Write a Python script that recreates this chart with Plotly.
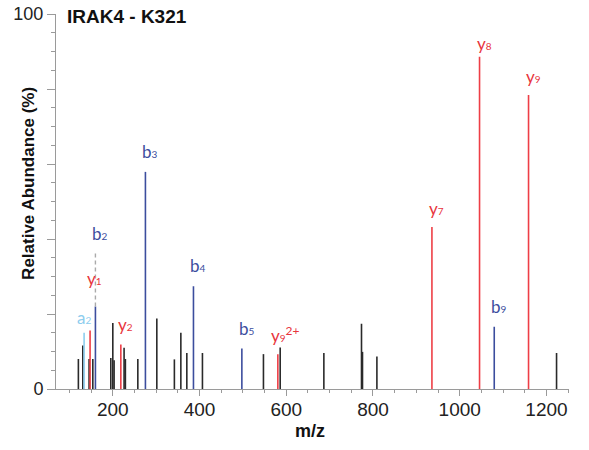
import plotly.graph_objects as go

# ---- data (m/z, relative abundance %) ----
other_mz = [120.6, 130.8, 145.3, 153.9, 195.4, 200.0, 203.0, 226.0, 229.0, 257.7,
            301.5, 342.0, 356.9, 370.7, 406.7, 547.4, 586.0, 686.7, 773.5, 775.8,
            809.0, 1223.3]
other_int = [8.0, 11.6, 8.0, 8.0, 8.3, 17.6, 7.7, 11.0, 8.0, 8.0,
             18.8, 7.9, 15.0, 9.6, 9.6, 9.3, 11.1, 9.6, 17.4, 9.9,
             8.7, 9.6]

y_mz = [147.6, 218.5, 580.6, 935.9, 1045.7, 1158.7]
y_int = [15.6, 11.9, 9.3, 43.2, 88.6, 78.4]
y_names = ["y", "y", "y", "y", "y", "y"]
y_nums = ["1", "2", "9", "7", "8", "9"]
y_charge = ["", "", "2+", "", "", ""]

b_mz = [159.9, 275.2, 386.0, 497.6, 1079.6]
b_int = [22.0, 57.9, 27.4, 10.8, 16.6]
b_names = ["b", "b", "b", "b", "b"]
b_nums = ["2", "3", "4", "5", "9"]

a_mz = [133.8]
a_int = [15.0]
a_names = ["a"]
a_nums = ["2"]

# dashed extension above b2
b2_ext_top = 36.4

x_range = [69, 1252]
y_range = [0, 100]
x_ticks = [200, 400, 600, 800, 1000, 1200]

# ---- styles ----
BLACK = "#2a2a2a"
RED = "#ee3e46"
RED_TXT = "#e8343c"
BLUE = "#3c4d9e"
LIGHTBLUE = "#8dcdee"
LW = 1.6
LABEL_FONT = "Lato"


def sticks(mz, inten):
    xs, ys = [], []
    for m, h in zip(mz, inten):
        xs += [m, m, None]
        ys += [0, h, None]
    return xs, ys


def ion_text(name, num, charge=""):
    t = f"{name}<span style='font-size:10px'>{num}</span>"
    if charge:
        t += f"<sup><span style='font-size:12px'>{charge}</span></sup>"
    return t


fig = go.Figure()
for mz, inten, col in [(other_mz, other_int, BLACK), (a_mz, a_int, LIGHTBLUE),
                       (y_mz, y_int, RED), (b_mz, b_int, BLUE)]:
    xs, ys = sticks(mz, inten)
    fig.add_trace(go.Scatter(x=xs, y=ys, mode="lines",
                             line=dict(color=col, width=LW),
                             hoverinfo="skip", showlegend=False))

# dashed grey extension above b2
fig.add_trace(go.Scatter(x=[b_mz[0], b_mz[0]], y=[b_int[0], b2_ext_top], mode="lines",
                         line=dict(color="#aaaaaa", width=1.4, dash="4px,3px"),
                         hoverinfo="skip", showlegend=False))

# label placement offsets (px): (xshift, yshift)
y_off = [(-5, 40), (-5, 7), (-9, 6), (-5, 6), (-5, 1), (-5, 6)]
b_off = [(-5, 7), (-5, 8), (-5, 8), (-5, 8), (-5, 8)]
a_off = [(-9, 3)]

ann = []
def add_labels(mz, inten, texts, offs, col, anchor_y=None):
    for i, (m, h, t, (dx, dy)) in enumerate(zip(mz, inten, texts, offs)):
        yy = h
        if anchor_y is not None and anchor_y[i] is not None:
            yy = anchor_y[i]
        ann.append(dict(x=m, y=yy, xref="x", yref="y", text=t, showarrow=False,
                        xanchor="left", yanchor="bottom", xshift=dx, yshift=dy,
                        font=dict(family=LABEL_FONT, size=17, color=col)))

add_labels(y_mz, y_int, [ion_text(n, k, c) for n, k, c in zip(y_names, y_nums, y_charge)],
           y_off, RED_TXT)
add_labels(b_mz, b_int, [ion_text(n, k) for n, k in zip(b_names, b_nums)], b_off, BLUE,
           anchor_y=[b2_ext_top, None, None, None, None])
add_labels(a_mz, a_int, [ion_text(n, k) for n, k in zip(a_names, a_nums)], a_off, LIGHTBLUE)

# titles
ann.append(dict(x=0.0175, y=0.993, xref="paper", yref="paper", text="<b>IRAK4 - K321</b>",
                showarrow=False, xanchor="left", yanchor="middle",
                font=dict(family="Liberation Sans", size=19, color="#111")))
ann.append(dict(x=-0.0526, y=0.547, xref="paper", yref="paper",
                text="<b>Relative Abundance (%)</b>", textangle=-90, showarrow=False,
                xanchor="center", yanchor="middle",
                font=dict(family="Liberation Sans", size=17, color="#111")))
ann.append(dict(x=0.495, y=-0.113, xref="paper", yref="paper", text="<b>m/z</b>",
                showarrow=False, xanchor="center", yanchor="middle",
                font=dict(family="Liberation Sans", size=18, color="#111")))

fig.update_layout(
    width=589, height=450,
    margin=dict(l=56, r=20, t=14, b=61, autoexpand=False),
    paper_bgcolor="white", plot_bgcolor="white",
    annotations=ann,
    xaxis=dict(range=x_range, showgrid=False, zeroline=False, showline=True,
               automargin=False, ticklabeloverflow="allow",
               linecolor="#9a9a9a", linewidth=1,
               tickmode="array", tickvals=x_ticks,
               ticks="outside", ticklen=6, tickcolor="#9a9a9a",
               minor=dict(tickmode="linear", tick0=0, dtick=50, ticks="outside",
                          ticklen=3, tickcolor="#9a9a9a"),
               tickfont=dict(family="Liberation Sans", size=19, color="#222"),
               ticklabelstandoff=-3),
    yaxis=dict(range=y_range, showgrid=False, zeroline=False, showline=True,
               automargin=False, ticklabeloverflow="allow",
               linecolor="#9a9a9a", linewidth=1,
               tickmode="array", tickvals=[0, 20, 40, 60, 80, 100],
               ticktext=["0", "", "", "", "", "100"],
               ticks="outside", ticklen=8, tickcolor="#9a9a9a",
               minor=dict(tickmode="linear", tick0=0, dtick=5, ticks="outside",
                          ticklen=4, tickcolor="#9a9a9a"),
               tickfont=dict(family="Liberation Sans", size=18, color="#222")),
)

# remove the page's default body margin so the figure sits at (0, 0)
fig.write_html("out.html", config={"displayModeBar": False},
               post_script="document.body.style.margin='0';")
